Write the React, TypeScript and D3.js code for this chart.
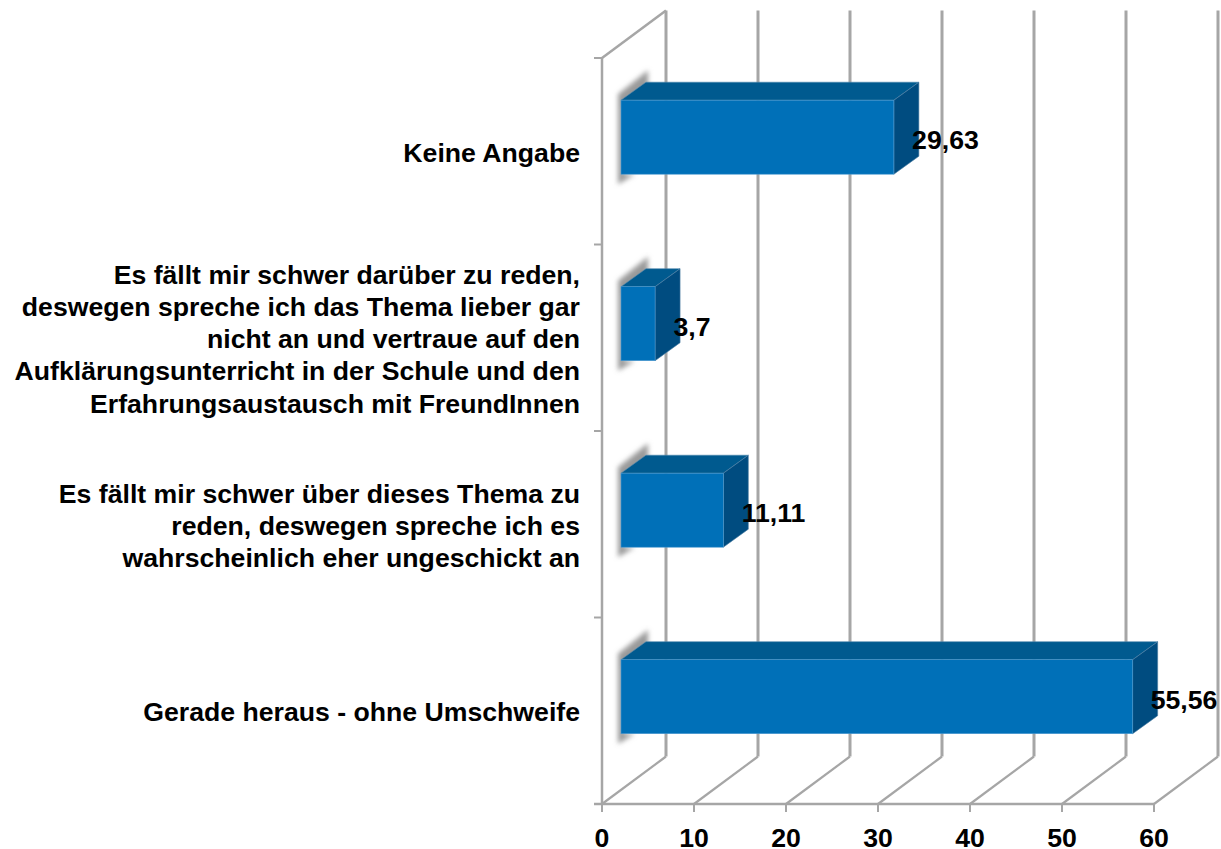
import React from "react";
import * as d3 from "d3";

const categories = ["Keine Angabe", "Es fällt mir schwer darüber", "Es fällt mir schwer über", "Gerade heraus"];
const labelLines = [
  ["Keine Angabe"],
  ["Es fällt mir schwer darüber zu reden,", "deswegen spreche ich das Thema lieber gar", "nicht an und vertraue auf den", "Aufklärungsunterricht in der Schule und den", "Erfahrungsaustausch mit FreundInnen"],
  ["Es fällt mir schwer über dieses Thema zu", "reden, deswegen spreche ich es", "wahrscheinlich eher ungeschickt an"],
  ["Gerade heraus - ohne Umschweife"],
];
const values = [29.63, 3.7, 11.11, 55.56];
const valueLabels = ["29,63", "3,7", "11,11", "55,56"];
const xTicks = [0, 10, 20, 30, 40, 50, 60];

const FONT = "'Liberation Sans', Arial, sans-serif";
const GRID = "#a6a6a6";
const FACE = "#0070b8";
const TOP = "#005a8f";
const SIDE = "#004c80";

const x = d3.scaleLinear().domain([0, 60]).range([602, 1154]);
const y = d3.scaleBand<string>().domain(categories).range([58, 804]);
const depth = { dx: 64, dy: -47.5 };
const barDepth = { dx: 25, dy: -18 };
const barStart = 19;
const barFaceTop = 42.2;
const barFaceH = 74;
const fontSize = 26.65;
const lineH = 32.2;

const pts = (p: number[][]) => p.map((q) => q.join(",")).join(" ");

export default function App() {
  const yBottom = y.range()[1];
  const yTop = y.range()[0];
  return (
    <svg width={1221} height={849} style={{ position: "absolute", left: 0, top: 0, background: "#fff" }} fontFamily={FONT}>
      <defs>
        <filter id="sh" x="-50%" y="-50%" width="200%" height="200%">
          <feGaussianBlur stdDeviation="2.6" />
        </filter>
      </defs>

      {/* walls */}
      <g stroke={GRID} fill="none">
        <line x1={x(0)} x2={x(0)} y1={yTop} y2={yBottom} strokeWidth={2.5} />
        <line x1={x(0)} y1={yTop} x2={x(0) + depth.dx} y2={yTop + depth.dy} strokeWidth={2.5} />
        {xTicks.map((t) => (
          <g key={t}>
            <line x1={x(t) + depth.dx} x2={x(t) + depth.dx} y1={yTop + depth.dy} y2={yBottom + depth.dy} strokeWidth={3} />
            <line x1={x(t)} y1={yBottom} x2={x(t) + depth.dx} y2={yBottom + depth.dy} strokeWidth={2.2} />
            <line x1={x(t)} x2={x(t)} y1={yBottom} y2={yBottom + 8} strokeWidth={2} />
          </g>
        ))}
        <line x1={594} x2={x(60)} y1={yBottom} y2={yBottom} strokeWidth={2.5} />
        {[58, ...categories.map((c) => (y(c) as number) + y.bandwidth())].map((v) => (
          <line key={v} x1={594} x2={x(0)} y1={v} y2={v} strokeWidth={2} />
        ))}
      </g>

      {/* bars */}
      {categories.map((c, i) => {
        const x0 = x(0) + barStart;
        const x1 = x0 + (x(values[i]) - x(0)) * 1.001;
        const t = (y(c) as number) + barFaceTop;
        const b = t + barFaceH;
        const { dx, dy } = barDepth;
        return (
          <g key={c}>
            <polygon
              points={pts([[618, t - 6], [x0 + dx + 2, t + dy - 12], [x0 + dx + 2, t + dy + 6], [x0 + 3, t + 8], [x0 + 3, b], [x0 + 14, b], [618, b + 10]])}
              fill="#9a9a9a"
              filter="url(#sh)"
            />
            <polygon points={pts([[x0, t], [x0 + dx, t + dy], [x1 + dx, t + dy], [x1, t]])} fill={TOP} stroke="#4d87ad" strokeWidth={0.6} />
            <polygon points={pts([[x1, t], [x1 + dx, t + dy], [x1 + dx, b + dy], [x1, b]])} fill={SIDE} stroke="#4d7ea3" strokeWidth={0.6} />
            <rect x={x0} y={t} width={x1 - x0} height={barFaceH} fill={FACE} stroke="#4d9ad0" strokeWidth={0.6} />
          </g>
        );
      })}

      {/* value labels */}
      {categories.map((c, i) => {
        const x1 = x(0) + barStart + (x(values[i]) - x(0));
        return (
          <text key={c} x={x1 + 18.5} y={(y(c) as number) + barFaceTop + 49} fontSize={fontSize} fontWeight="bold" fill="#000" textAnchor="start">
            {valueLabels[i]}
          </text>
        );
      })}

      {/* category labels */}
      {categories.map((c, i) => {
        const lines = labelLines[i];
        const cy = (y(c) as number) + y.bandwidth() / 2 - 0.5;
        return (
          <text key={c} fontSize={fontSize} fontWeight="bold" fill="#000" textAnchor="end">
            {lines.map((l, j) => (
              <tspan key={j} x={580} y={cy + (j - (lines.length - 1) / 2) * lineH + 11}>
                {l}
              </tspan>
            ))}
          </text>
        );
      })}

      {/* x tick labels */}
      {xTicks.map((t) => (
        <text key={t} x={x(t)} y={847} fontSize={fontSize} fontWeight="bold" fill="#000" textAnchor="middle">
          {t}
        </text>
      ))}
    </svg>
  );
}
